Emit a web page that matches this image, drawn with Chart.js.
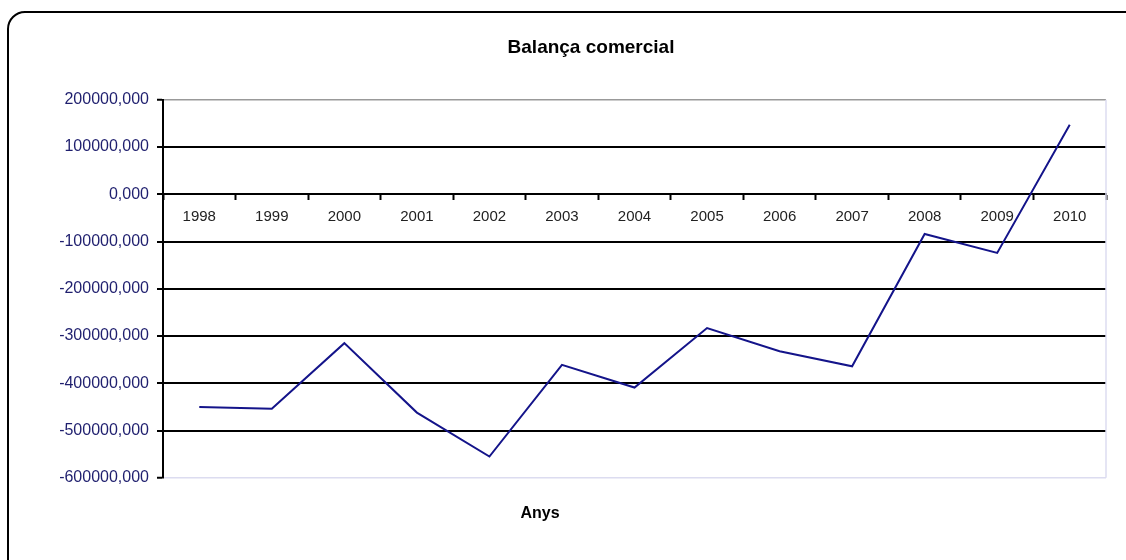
<!DOCTYPE html>
<html>
<head>
<meta charset="utf-8">
<title>Balança comercial</title>
<script src="https://cdn.jsdelivr.net/npm/chart.js@4/dist/chart.umd.min.js"></script>
<style>
  html, body { margin: 0; padding: 0; background: #fff; overflow: hidden; }
  #wrap { position: relative; width: 1126px; height: 560px; }
  #frame {
    position: absolute; left: 7px; top: 11px; width: 1150px; height: 580px;
    border: 2px solid #000; border-radius: 18px; box-sizing: border-box;
  }
  canvas { position: absolute; left: 0; top: 0; }
</style>
</head>
<body>
<div id="wrap">
  <div id="frame"></div>
  <canvas id="chart" width="1126" height="560"></canvas>
</div>
<script>
// dades
const anys = ['1998', '1999', '2000', '2001', '2002', '2003', '2004', '2005', '2006', '2007', '2008', '2009', '2010'];
const balanca = [-450000, -454000, -315000, -462000, -555000, -361000, -409000, -283000, -332000, -364000, -84000, -124000, 147000];
const yMin = -600000;
const yMax = 200000;
const yStep = 100000;

// vora dreta de l'àrea del gràfic
const plotBorder = {
  id: 'plotBorder',
  afterDraw: function(chart) {
    const a = chart.chartArea;
    const ctx = chart.ctx;
    ctx.save();
    ctx.strokeStyle = '#dcdcf0';
    ctx.lineWidth = 1.5;
    ctx.beginPath();
    ctx.moveTo(a.right, a.top);
    ctx.lineTo(a.right, a.bottom);
    ctx.stroke();
    ctx.restore();
  }
};

// desplaça el títol i el subtítol com a l'original
const titleShift = {
  id: 'titleShift',
  afterLayout: function(chart) {
    chart.boxes.forEach(function(b) {
      if (!b.options || typeof b.options.text !== 'string') return;
      const dx = b.options.text === 'Anys' ? -13 : 38;
      b.left += dx;
      b.right += dx;
    });
  }
};

const ctx = document.getElementById('chart').getContext('2d');
new Chart(ctx, {
  type: 'line',
  data: {
    labels: anys,
    datasets: [{
      label: 'Balança comercial',
      data: balanca,
      borderColor: '#14148a',
      borderWidth: 2,
      pointRadius: 0,
      tension: 0,
      fill: false
    }]
  },
  options: {
    responsive: false,
    animation: false,
    layout: { padding: { left: 0, right: 20, top: 0, bottom: 0 } },
    plugins: {
      legend: { display: false },
      tooltip: { enabled: false },
      title: {
        display: true,
        text: 'Balança comercial',
        color: '#000',
        font: { family: 'Liberation Sans, Arial, sans-serif', size: 19, weight: 'bold' },
        padding: { top: 36, bottom: 41 }
      },
      subtitle: {
        display: true,
        text: 'Anys',
        position: 'bottom',
        color: '#000',
        font: { family: 'Liberation Sans, Arial, sans-serif', size: 16, weight: 'bold' },
        padding: { top: 26, bottom: 37 }
      }
    },
    scales: {
      x: {
        position: { y: 0 },
        offset: true,
        grid: {
          offset: true,
          drawOnChartArea: false,
          drawTicks: true,
          tickLength: 5,
          color: '#000',
          tickColor: '#000',
          tickWidth: 2
        },
        border: { display: true, color: '#000', width: 2 },
        ticks: {
          color: '#222',
          padding: 9,
          maxRotation: 0,
          autoSkip: false,
          font: { family: 'Liberation Sans, Arial, sans-serif', size: 15 }
        }
      },
      y: {
        min: yMin,
        max: yMax,
        afterFit: function(scale) { scale.width = 163; },
        grid: {
          color: function(c) {
            if (c.tick.value === yMax) return '#999';
            if (c.tick.value === yMin) return '#dcdcf0';
            return '#000';
          },
          lineWidth: function(c) {
            return (c.tick.value === yMax || c.tick.value === yMin) ? 1.5 : 2;
          },
          tickColor: '#000',
          tickLength: 6,
          tickWidth: 2
        },
        border: { display: true, color: '#000', width: 2 },
        ticks: {
          stepSize: yStep,
          color: '#1f1f6e',
          padding: 8,
          font: { family: 'Liberation Sans, Arial, sans-serif', size: 16 },
          callback: function(v) { return v.toFixed(3).replace('.', ','); }
        }
      }
    }
  },
  plugins: [plotBorder, titleShift]
});
</script>
</body>
</html>
